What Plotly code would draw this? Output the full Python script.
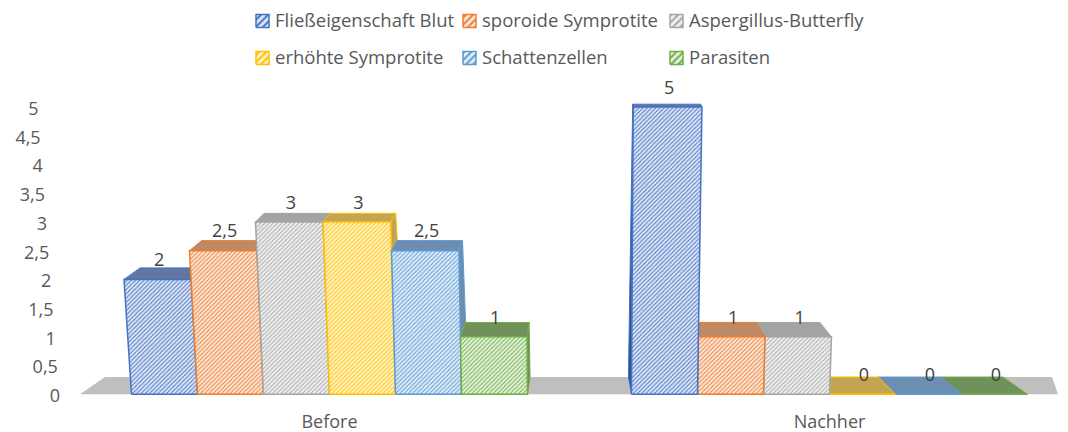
import plotly.graph_objects as go

categories = ["Before", "Nachher"]
series_names = ["Fließeigenschaft Blut", "sporoide Symprotite", "Aspergillus-Butterfly",
                "erhöhte Symprotite", "Schattenzellen", "Parasiten"]
before_values = [2, 2.5, 3, 3, 2.5, 1]
nachher_values = [5, 1, 1, 0, 0, 0]
y_ticks = [0, 0.5, 1, 1.5, 2, 2.5, 3, 3.5, 4, 4.5, 5]

colors = ["#4472C4", "#ED7D31", "#A5A5A5", "#FFC000", "#5B9BD5", "#70AD47"]
lights = ["#DCE5F5", "#FCE6D8", "#F0F0F0", "#FFF2C4", "#DEEBF7", "#E3F1DA"]
darks = ["#64789F", "#BC8A68", "#A3A3A3", "#BFA35A", "#6E8DAE", "#6F8F5C"]

FONT = "Open Sans"
W, H = 1068, 432
Y_SCALE = 57.4            # pixels per value unit
Y0_PX = 394
Y_LOW = -0.1              # axis starts a little below zero so the 0 label stays on the plot
SLOT_PX = 500             # pixels between categories
X0_PX = 329.5
BAR = 0.132               # bar width in category units
VAN_BACK, VAN_FRONT = 0.49, 0.52


def depth(v):
    return 0.30 - 0.05 * v


def front_x(x, v):
    return x + 0.0082 * v * (x - VAN_FRONT)


def back_x(x, v):
    fx = front_x(x, v)
    return fx + depth(v) * 0.18 * (VAN_BACK - fx)


def poly(xs, ys, fill, pattern=None, line=None, lw=1.5, name=None):
    kw = dict(x=xs + xs[:1], y=ys + ys[:1], mode="lines", fill="toself", fillcolor=fill,
              line=dict(color=line or fill, width=lw), hoverinfo="skip", showlegend=False, name=name)
    if pattern:
        kw["fillpattern"] = pattern
    return go.Scatter(**kw)


def stripes(fg, bg, size=3, sol=0.3):
    return dict(shape="/", fgcolor=fg, bgcolor=bg, size=size, solidity=sol, fillmode="replace")


fig = go.Figure()

# floor
left_f = (80 - X0_PX) / SLOT_PX
right_f = (1058 - X0_PX) / SLOT_PX
left_b = (105 - X0_PX) / SLOT_PX
right_b = (1052 - X0_PX) / SLOT_PX
fig.add_trace(poly([left_f, right_f, right_b, left_b], [0, 0, depth(0), depth(0)], "#BFBFBF", lw=0))


def add_bar(cat, s, v):
    xl = cat + (s - 3) * BAR
    xr = xl + BAR
    c, d = colors[s], darks[s]
    tl, tr = front_x(xl, v), front_x(xr, v)
    bl, br = back_x(xl, v), back_x(xr, v)
    yb = v + depth(v)
    if v > 0:
        # side faces
        if back_x(xr, 0) > xr or br > tr:
            fig.add_trace(poly([xr, tr, br, back_x(xr, 0)], [0, v, yb, depth(0)], d, line=c, lw=1))
        if back_x(xl, 0) < xl:
            fig.add_trace(poly([xl, tl, bl, back_x(xl, 0)], [0, v, yb, depth(0)], "#2F528F", line=c, lw=1))
    # top face
    fig.add_trace(poly([tl, tr, br, bl], [v, v, yb, yb], d,
                       pattern=stripes(c, d, 3, 0.1), line=c, lw=1))
    # front face
    if v > 0:
        fig.add_trace(poly([xl, xr, tr, tl], [0, 0, v, v], lights[s],
                           pattern=stripes(c, lights[s]), line=c, name=series_names[s]))
    else:
        fig.add_trace(go.Scatter(x=[xl, xr], y=[0, 0], mode="lines", line=dict(color=c, width=1.5),
                                 hoverinfo="skip", showlegend=False))


for s, v in enumerate(before_values):
    add_bar(0, s, v)
for s in reversed(range(6)):
    add_bar(1, s, nachher_values[s])

# data labels
lab_x, lab_y, lab_t = [], [], []
for cat, vals in enumerate([before_values, nachher_values]):
    for s, v in enumerate(vals):
        xl = cat + (s - 3) * BAR
        lab_x.append((front_x(xl, v) + front_x(xl + BAR, v)) / 2 + 0.003)
        lab_y.append(v + 0.31)
        lab_t.append(str(v).replace(".", ","))
fig.add_trace(go.Scatter(x=lab_x, y=lab_y, text=lab_t, mode="text", textposition="middle center",
                         textfont=dict(family=FONT, size=18, color="#404040"), cliponaxis=False,
                         hoverinfo="skip", showlegend=False))

# value-axis labels follow the receding wall
fig.add_trace(go.Scatter(
    x=[(60 - 4.3 * t - X0_PX) / SLOT_PX for t in y_ticks], y=[t - 0.06 for t in y_ticks],
    text=[str(t).replace(".", ",") for t in y_ticks], mode="text", textposition="middle left",
    textfont=dict(family=FONT, size=18, color="#595959"), cliponaxis=False,
    hoverinfo="skip", showlegend=False))

# legend in two rows
leg_cols = [256, 463, 670]
leg_rows = [21, 58]
for i, name in enumerate(series_names):
    px = leg_cols[i % 3]
    py = leg_rows[i // 3]
    x0 = (px - X0_PX) / SLOT_PX
    x1 = (px + 13 - X0_PX) / SLOT_PX
    y0 = (Y0_PX - py - 6.5) / Y_SCALE
    y1 = (Y0_PX - py + 6.5) / Y_SCALE
    fig.add_trace(poly([x0, x1, x1, x0], [y0, y0, y1, y1], lights[i],
                       pattern=stripes(colors[i], lights[i], 5, 0.4), line=colors[i]))
    fig.add_trace(go.Scatter(x=[(px + 19 - X0_PX) / SLOT_PX], y=[(Y0_PX - py - 1) / Y_SCALE],
                             text=[name], mode="text", textposition="middle right",
                             textfont=dict(family=FONT, size=18.5, color="#595959"),
                             hoverinfo="skip", showlegend=False))

fig.update_layout(
    width=W, height=H,
    margin=dict(l=0, r=0, t=0, b=H - Y0_PX + Y_LOW * Y_SCALE, autoexpand=False),
    paper_bgcolor="white", plot_bgcolor="white", showlegend=False, separators=", ",
    xaxis=dict(range=[-X0_PX / SLOT_PX, (W - X0_PX) / SLOT_PX], tickmode="array", tickvals=[0, 1],
               ticktext=categories, showgrid=False, zeroline=False, showline=False, ticks="outside",
               ticklen=5.5, tickcolor="rgba(0,0,0,0)", tickfont=dict(family=FONT, size=18, color="#595959")),
    yaxis=dict(range=[Y_LOW, Y0_PX / Y_SCALE], showgrid=False, zeroline=False, showline=False,
               showticklabels=False, ticks=""),
)
fig.write_html("out.html", config=dict(displayModeBar=False),
               post_script="document.body.style.margin='0';document.documentElement.style.overflow='hidden';")
